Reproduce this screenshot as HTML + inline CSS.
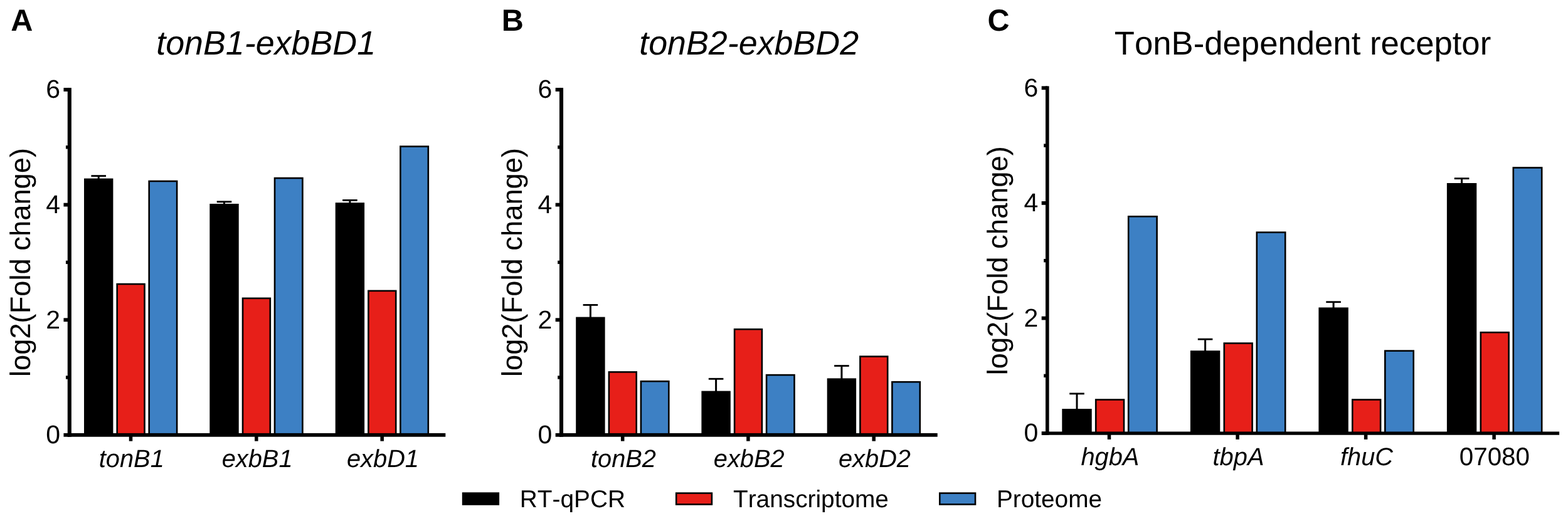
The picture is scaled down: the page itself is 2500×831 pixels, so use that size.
<!DOCTYPE html>
<html lang="en">
<head>
<meta charset="utf-8">
<title>tonB expression: RT-qPCR, transcriptome and proteome</title>
<style>
html,body{margin:0;padding:0;background:#fff;}
body{width:2500px;height:831px;overflow:hidden;}
svg{display:block;}
svg text{font-kerning:none;text-rendering:geometricPrecision;font-family:"Liberation Sans",Arial,Helvetica,sans-serif;fill:#000;}
</style>
</head>
<body>
<svg width="2500" height="831" viewBox="0 0 2500 831">
<rect x="0" y="0" width="2500" height="831" fill="#fff"/>
<rect x="155.7" y="280.2" width="3" height="5.4" fill="#000"/>
<rect x="145.4" y="279.2" width="23.6" height="2.8" fill="#000"/>
<rect x="134" y="284.6" width="46.4" height="409.2" fill="#000"/>
<rect x="186.7" y="453.1" width="43.8" height="240.4" fill="#E71F19" stroke="#000" stroke-width="2.6"/>
<rect x="237.7" y="289" width="44.4" height="404.5" fill="#3D80C4" stroke="#000" stroke-width="2.6"/>
<rect x="356" y="321.4" width="3" height="4.6" fill="#000"/>
<rect x="345.7" y="320.4" width="23.6" height="2.8" fill="#000"/>
<rect x="334.3" y="325" width="46.4" height="368.8" fill="#000"/>
<rect x="387" y="475.8" width="43.8" height="217.7" fill="#E71F19" stroke="#000" stroke-width="2.6"/>
<rect x="438" y="284.1" width="44.4" height="409.4" fill="#3D80C4" stroke="#000" stroke-width="2.6"/>
<rect x="556.4" y="319" width="3" height="5.2" fill="#000"/>
<rect x="546.1" y="318" width="23.6" height="2.8" fill="#000"/>
<rect x="534.7" y="323.2" width="46.4" height="370.6" fill="#000"/>
<rect x="587.4" y="463.9" width="43.8" height="229.6" fill="#E71F19" stroke="#000" stroke-width="2.6"/>
<rect x="638.4" y="233.6" width="44.4" height="459.9" fill="#3D80C4" stroke="#000" stroke-width="2.6"/>
<rect x="107.75" y="140.1" width="6.1" height="556.6" fill="#000"/>
<rect x="107.75" y="690.9" width="602.55" height="5.8" fill="#000"/>
<rect x="101.45" y="690.9" width="9.35" height="5.8" fill="#000"/>
<text x="96.05" y="707.1" font-size="41" text-anchor="end">0</text>
<rect x="104.95" y="599.3" width="5.85" height="5.4" fill="#000"/>
<rect x="101.45" y="507.3" width="9.35" height="5.8" fill="#000"/>
<text x="96.05" y="523.5" font-size="41" text-anchor="end">2</text>
<rect x="104.95" y="415.7" width="5.85" height="5.4" fill="#000"/>
<rect x="101.45" y="323.7" width="9.35" height="5.8" fill="#000"/>
<text x="96.05" y="339.9" font-size="41" text-anchor="end">4</text>
<rect x="104.95" y="232.1" width="5.85" height="5.4" fill="#000"/>
<rect x="101.45" y="140.1" width="9.35" height="5.8" fill="#000"/>
<text x="96.05" y="156.3" font-size="41" text-anchor="end">6</text>
<rect x="205.75" y="693.8" width="5.5" height="9.8" fill="#000"/>
<text x="209.8" y="745.2" font-size="39.8" text-anchor="middle" font-style="italic">tonB1</text>
<rect x="406.05" y="693.8" width="5.5" height="9.8" fill="#000"/>
<text x="410.1" y="745.2" font-size="39.8" text-anchor="middle" font-style="italic">exbB1</text>
<rect x="606.45" y="693.8" width="5.5" height="9.8" fill="#000"/>
<text x="610.5" y="745.2" font-size="39.8" text-anchor="middle" font-style="italic">exbD1</text>
<text x="47.6" y="418.5" font-size="45.3" text-anchor="middle" transform="rotate(-90 47.6 418.5)">log2(Fold change)</text>
<text x="424.15" y="86.6" font-size="53.8" text-anchor="middle" font-style="italic">tonB1-exbBD1</text>
<text x="17.3" y="48.5" font-size="48.6" font-weight="bold">A</text>
<rect x="939.9" y="486" width="3" height="20.6" fill="#000"/>
<rect x="929.6" y="485" width="23.6" height="2.8" fill="#000"/>
<rect x="918.2" y="505.6" width="46.4" height="188.2" fill="#000"/>
<rect x="970.9" y="593.4" width="43.8" height="100.1" fill="#E71F19" stroke="#000" stroke-width="2.6"/>
<rect x="1021.9" y="608.2" width="44.4" height="85.3" fill="#3D80C4" stroke="#000" stroke-width="2.6"/>
<rect x="1140.1" y="603.9" width="3" height="20.7" fill="#000"/>
<rect x="1129.8" y="602.9" width="23.6" height="2.8" fill="#000"/>
<rect x="1118.4" y="623.6" width="46.4" height="70.2" fill="#000"/>
<rect x="1171.1" y="525.2" width="43.8" height="168.3" fill="#E71F19" stroke="#000" stroke-width="2.6"/>
<rect x="1222.1" y="598.1" width="44.4" height="95.4" fill="#3D80C4" stroke="#000" stroke-width="2.6"/>
<rect x="1340.4" y="583.1" width="3" height="21.3" fill="#000"/>
<rect x="1330.1" y="582.1" width="23.6" height="2.8" fill="#000"/>
<rect x="1318.7" y="603.4" width="46.4" height="90.4" fill="#000"/>
<rect x="1371.4" y="568.6" width="43.8" height="124.9" fill="#E71F19" stroke="#000" stroke-width="2.6"/>
<rect x="1422.4" y="609.2" width="44.4" height="84.3" fill="#3D80C4" stroke="#000" stroke-width="2.6"/>
<rect x="891.95" y="140.1" width="6.1" height="556.6" fill="#000"/>
<rect x="891.95" y="690.9" width="602.75" height="5.8" fill="#000"/>
<rect x="885.65" y="690.9" width="9.35" height="5.8" fill="#000"/>
<text x="880.25" y="707.1" font-size="41" text-anchor="end">0</text>
<rect x="889.15" y="599.3" width="5.85" height="5.4" fill="#000"/>
<rect x="885.65" y="507.3" width="9.35" height="5.8" fill="#000"/>
<text x="880.25" y="523.5" font-size="41" text-anchor="end">2</text>
<rect x="889.15" y="415.7" width="5.85" height="5.4" fill="#000"/>
<rect x="885.65" y="323.7" width="9.35" height="5.8" fill="#000"/>
<text x="880.25" y="339.9" font-size="41" text-anchor="end">4</text>
<rect x="889.15" y="232.1" width="5.85" height="5.4" fill="#000"/>
<rect x="885.65" y="140.1" width="9.35" height="5.8" fill="#000"/>
<text x="880.25" y="156.3" font-size="41" text-anchor="end">6</text>
<rect x="989.95" y="693.8" width="5.5" height="9.8" fill="#000"/>
<text x="994" y="745.2" font-size="39.8" text-anchor="middle" font-style="italic">tonB2</text>
<rect x="1190.15" y="693.8" width="5.5" height="9.8" fill="#000"/>
<text x="1194.2" y="745.2" font-size="39.8" text-anchor="middle" font-style="italic">exbB2</text>
<rect x="1390.45" y="693.8" width="5.5" height="9.8" fill="#000"/>
<text x="1394.5" y="745.2" font-size="39.8" text-anchor="middle" font-style="italic">exbD2</text>
<text x="831.7" y="418.5" font-size="45.3" text-anchor="middle" transform="rotate(-90 831.7 418.5)">log2(Fold change)</text>
<text x="1194.15" y="86.6" font-size="53.8" text-anchor="middle" font-style="italic">tonB2-exbBD2</text>
<text x="799.75" y="48.5" font-size="48.6" font-weight="bold">B</text>
<rect x="1715.5" y="627.5" width="3" height="25.6" fill="#000"/>
<rect x="1705.2" y="626.5" width="23.6" height="2.8" fill="#000"/>
<rect x="1693.3" y="652.1" width="47.4" height="39" fill="#000"/>
<rect x="1747.2" y="637.5" width="44.8" height="53.3" fill="#E71F19" stroke="#000" stroke-width="2.6"/>
<rect x="1799.2" y="345.3" width="45.4" height="345.5" fill="#3D80C4" stroke="#000" stroke-width="2.6"/>
<rect x="1920.1" y="540.7" width="3" height="19.5" fill="#000"/>
<rect x="1909.8" y="539.7" width="23.6" height="2.8" fill="#000"/>
<rect x="1897.9" y="559.2" width="47.4" height="131.9" fill="#000"/>
<rect x="1951.8" y="547.5" width="44.8" height="143.3" fill="#E71F19" stroke="#000" stroke-width="2.6"/>
<rect x="2003.8" y="370.6" width="45.4" height="320.2" fill="#3D80C4" stroke="#000" stroke-width="2.6"/>
<rect x="2124.6" y="481.3" width="3" height="10.1" fill="#000"/>
<rect x="2114.3" y="480.3" width="23.6" height="2.8" fill="#000"/>
<rect x="2102.4" y="490.4" width="47.4" height="200.7" fill="#000"/>
<rect x="2156.3" y="637.5" width="44.8" height="53.3" fill="#E71F19" stroke="#000" stroke-width="2.6"/>
<rect x="2208.3" y="559.6" width="45.4" height="131.2" fill="#3D80C4" stroke="#000" stroke-width="2.6"/>
<rect x="2329.1" y="284.3" width="3" height="8.7" fill="#000"/>
<rect x="2318.8" y="283.3" width="23.6" height="2.8" fill="#000"/>
<rect x="2306.9" y="292" width="47.4" height="399.1" fill="#000"/>
<rect x="2360.8" y="530.2" width="44.8" height="160.6" fill="#E71F19" stroke="#000" stroke-width="2.6"/>
<rect x="2412.8" y="267.5" width="45.4" height="423.3" fill="#3D80C4" stroke="#000" stroke-width="2.6"/>
<rect x="1667" y="137.4" width="5.6" height="556.35" fill="#000"/>
<rect x="1667" y="688.45" width="819.1" height="5.3" fill="#000"/>
<rect x="1660.7" y="688.2" width="9.1" height="5.8" fill="#000"/>
<text x="1655.3" y="704.4" font-size="41" text-anchor="end">0</text>
<rect x="1664.2" y="596.6" width="5.6" height="5.4" fill="#000"/>
<rect x="1660.7" y="504.6" width="9.1" height="5.8" fill="#000"/>
<text x="1655.3" y="520.8" font-size="41" text-anchor="end">2</text>
<rect x="1664.2" y="413" width="5.6" height="5.4" fill="#000"/>
<rect x="1660.7" y="321" width="9.1" height="5.8" fill="#000"/>
<text x="1655.3" y="337.2" font-size="41" text-anchor="end">4</text>
<rect x="1664.2" y="229.4" width="5.6" height="5.4" fill="#000"/>
<rect x="1660.7" y="137.4" width="9.1" height="5.8" fill="#000"/>
<text x="1655.3" y="153.6" font-size="41" text-anchor="end">6</text>
<rect x="1765.75" y="691.1" width="5.5" height="9.8" fill="#000"/>
<text x="1769.9" y="741.7" font-size="39.8" text-anchor="middle" font-style="italic">hgbA</text>
<rect x="1970.35" y="691.1" width="5.5" height="9.8" fill="#000"/>
<text x="1974.5" y="741.7" font-size="39.8" text-anchor="middle" font-style="italic">tbpA</text>
<rect x="2174.85" y="691.1" width="5.5" height="9.8" fill="#000"/>
<text x="2179" y="741.7" font-size="39.8" text-anchor="middle" font-style="italic">fhuC</text>
<rect x="2379.35" y="691.1" width="5.5" height="9.8" fill="#000"/>
<text x="2382.9" y="742" font-size="40.4" text-anchor="middle">07080</text>
<text x="1606.5" y="415.8" font-size="45.3" text-anchor="middle" transform="rotate(-90 1606.5 415.8)">log2(Fold change)</text>
<text x="2077" y="86.7" font-size="52.7" text-anchor="middle">TonB-dependent receptor</text>
<text x="1574.5" y="48.5" font-size="48.6" font-weight="bold">C</text>
<rect x="738.1" y="786.6" width="56.7" height="17.9" fill="#000" stroke="#000" stroke-width="2.6"/>
<text x="828.8" y="809.3" font-size="38.8">RT-qPCR</text>
<rect x="1078.2" y="786.6" width="56.7" height="17.9" fill="#E71F19" stroke="#000" stroke-width="2.6"/>
<text x="1169" y="809.3" font-size="38.8">Transcriptome</text>
<rect x="1498.3" y="786.6" width="56.7" height="17.9" fill="#3D80C4" stroke="#000" stroke-width="2.6"/>
<text x="1588.9" y="809.3" font-size="38.8">Proteome</text>
</svg>
</body>
</html>
